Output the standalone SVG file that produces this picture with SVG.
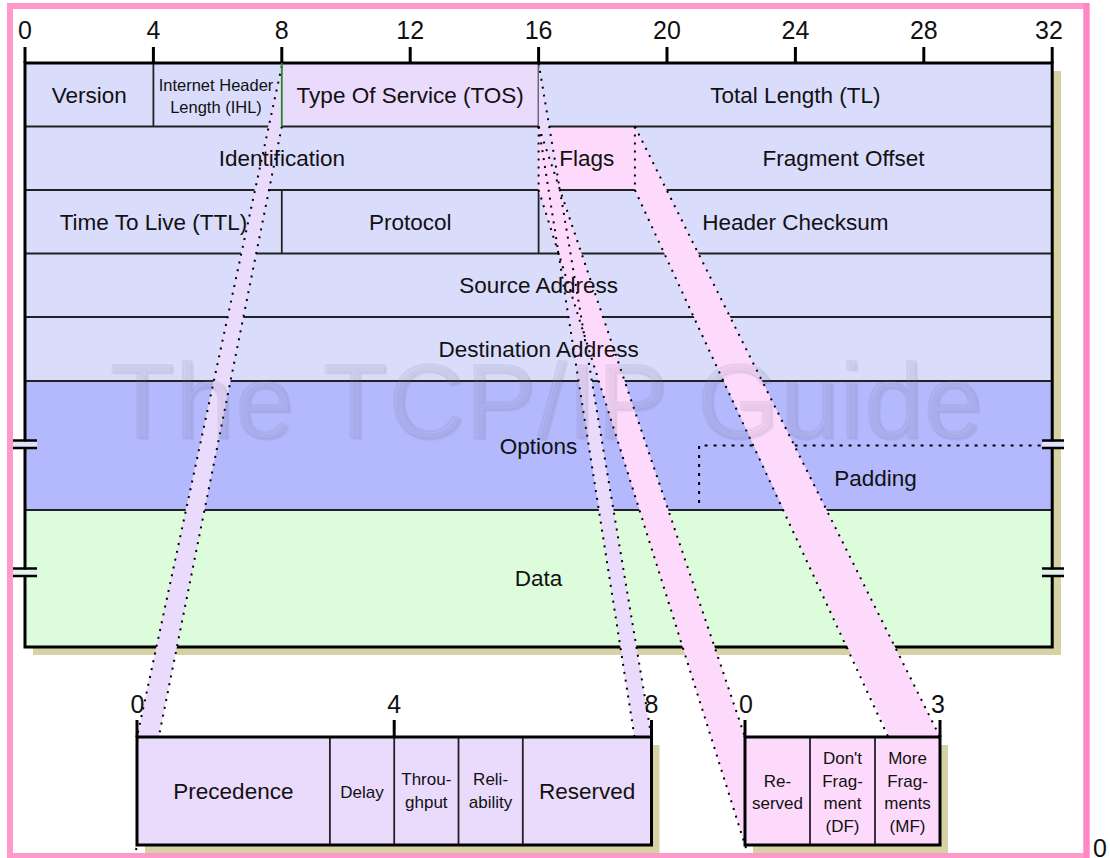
<svg xmlns="http://www.w3.org/2000/svg" width="1110" height="858" viewBox="0 0 1110 858">
  <defs>
    <style>
      .lbl{font-family:"Liberation Sans",Arial,sans-serif;font-size:22.5px;fill:#111;text-anchor:middle}
      .sm{font-size:17px}
      .ihl{font-size:16.5px}
      .tick{font-family:"Liberation Sans",Arial,sans-serif;font-size:25px;fill:#111;text-anchor:middle}
      .grid{stroke:#222;stroke-width:1.8;fill:none}
      .edge{stroke:#000;stroke-width:3;fill:none}
      .tk{stroke:#000;stroke-width:3}
      .dots{stroke:#000;stroke-width:2;stroke-dasharray:2 6;fill:none}
      .shadow{fill:#d6d2a6}
      .brk{stroke:#000;stroke-width:2.5}
      .row{fill:#dadcfc}
      .tos{fill:#eadafc}
      .flg{fill:#fddafc}
      .opt{fill:#b4b8fc}
      .dat{fill:#dcfcdc}
      .wm{font-family:"Liberation Sans",Arial,sans-serif;font-size:106px}
    </style>
  </defs>

  <rect x="0" y="0" width="1110" height="858" fill="#fff"/>

  <!-- bit ruler above the header -->
  <g id="ruler">
    <line class="tk" x1="25" y1="47" x2="25" y2="63"/>
    <line class="tk" x1="153.4" y1="47" x2="153.4" y2="63"/>
    <line class="tk" x1="281.8" y1="47" x2="281.8" y2="63"/>
    <line class="tk" x1="410.2" y1="47" x2="410.2" y2="63"/>
    <line class="tk" x1="538.6" y1="47" x2="538.6" y2="63"/>
    <line class="tk" x1="667" y1="47" x2="667" y2="63"/>
    <line class="tk" x1="795.4" y1="47" x2="795.4" y2="63"/>
    <line class="tk" x1="923.8" y1="47" x2="923.8" y2="63"/>
    <line class="tk" x1="1052.2" y1="47" x2="1052.2" y2="63"/>
    <text class="tick" x="25" y="39">0</text>
    <text class="tick" x="153.4" y="39">4</text>
    <text class="tick" x="281.8" y="39">8</text>
    <text class="tick" x="410.2" y="39">12</text>
    <text class="tick" x="538.6" y="39">16</text>
    <text class="tick" x="667" y="39">20</text>
    <text class="tick" x="795.4" y="39">24</text>
    <text class="tick" x="923.8" y="39">28</text>
    <text class="tick" x="1049" y="39">32</text>
  </g>

  <!-- header body: cells, grid and frame -->
  <g id="header-body">
    <rect class="shadow" x="33" y="71" width="1028" height="584"/>
    <g id="cell-version"><rect class="row" x="25" y="63" width="128.4" height="63.5"/></g>
    <g id="cell-ihl"><rect class="row" x="153.4" y="63" width="128.4" height="63.5"/></g>
    <g id="cell-tos"><rect class="tos" x="281.8" y="63" width="256.8" height="63.5"/></g>
    <g id="cell-total-length"><rect class="row" x="538.6" y="63" width="513.6" height="63.5"/></g>
    <g id="cell-identification"><rect class="row" x="25" y="126.5" width="513.6" height="63.5"/></g>
    <g id="cell-flags"><rect class="flg" x="538.6" y="126.5" width="96.3" height="63.5"/></g>
    <g id="cell-fragment-offset"><rect class="row" x="634.9" y="126.5" width="417.3" height="63.5"/></g>
    <g id="cell-ttl"><rect class="row" x="25" y="190" width="256.8" height="63.5"/></g>
    <g id="cell-protocol"><rect class="row" x="281.8" y="190" width="256.8" height="63.5"/></g>
    <g id="cell-checksum"><rect class="row" x="538.6" y="190" width="513.6" height="63.5"/></g>
    <g id="cell-source"><rect class="row" x="25" y="253.5" width="1027.2" height="63.5"/></g>
    <g id="cell-destination"><rect class="row" x="25" y="317" width="1027.2" height="64"/></g>
    <g id="cell-options"><rect class="opt" x="25" y="381" width="1027.2" height="129"/></g>
    <g id="cell-data"><rect class="dat" x="25" y="510" width="1027.2" height="137"/></g>

    <g class="grid">
      <line x1="25" y1="126.5" x2="1052.2" y2="126.5"/>
      <line x1="25" y1="190" x2="1052.2" y2="190"/>
      <line x1="25" y1="253.5" x2="1052.2" y2="253.5"/>
      <line x1="25" y1="317" x2="1052.2" y2="317"/>
      <line x1="25" y1="381" x2="1052.2" y2="381"/>
      <line x1="25" y1="510" x2="1052.2" y2="510"/>
      <line x1="153.4" y1="63" x2="153.4" y2="126.5"/>
      <line x1="538.6" y1="63" x2="538.6" y2="126.5"/>
      <line x1="281.8" y1="190" x2="281.8" y2="253.5"/>
      <line x1="538.6" y1="190" x2="538.6" y2="253.5"/>
    </g>
    <!-- padding boundary inside the options row -->
    <path d="M699.1,503 V445.5 H1046" stroke="#000" stroke-width="2" stroke-dasharray="3 6" fill="none"/>

    <rect class="edge" x="25" y="63" width="1027.2" height="584"/>

    <!-- variable-length break marks -->
    <g id="breaks">
      <rect x="13" y="441.5" width="24" height="5.5" fill="#e2e2fc"/>
      <line class="brk" x1="13" y1="440.5" x2="37" y2="440.5"/>
      <line class="brk" x1="13" y1="448" x2="37" y2="448"/>
      <rect x="13" y="569.5" width="24" height="5.5" fill="#e2f4ea"/>
      <line class="brk" x1="13" y1="568.5" x2="37" y2="568.5"/>
      <line class="brk" x1="13" y1="576" x2="37" y2="576"/>
      <rect x="1042" y="441.5" width="22" height="5.5" fill="#e2e2fc"/>
      <line class="brk" x1="1042" y1="440.5" x2="1064" y2="440.5"/>
      <line class="brk" x1="1042" y1="448" x2="1064" y2="448"/>
      <rect x="1042" y="569.5" width="22" height="5.5" fill="#e2f4ea"/>
      <line class="brk" x1="1042" y1="568.5" x2="1064" y2="568.5"/>
      <line class="brk" x1="1042" y1="576" x2="1064" y2="576"/>
    </g>
  </g>

  <!-- expansion beams from TOS and Flags down to their detail boxes -->
  <g id="connectors">
    <polygon class="tos" points="281.8,63 137,737 137,845 281.8,126.5"/>
    <polygon class="tos" points="538.6,63 651.5,737 651.5,845 538.6,126.5"/>
    <polygon class="flg" points="538.6,126.5 745,737 745,845 538.6,190"/>
    <polygon class="flg" points="634.9,126.5 940,737 940,845 634.9,190"/>
    <g class="dots">
      <line x1="281.8" y1="66" x2="137" y2="737"/>
      <line x1="281.8" y1="126.5" x2="135.8" y2="851"/>
      <line x1="538.6" y1="63" x2="651.5" y2="737"/>
      <line x1="538.6" y1="126.5" x2="652.4" y2="851"/>
      <line x1="538.6" y1="126.5" x2="745" y2="737"/>
      <line x1="538.6" y1="190" x2="746.9" y2="851"/>
      <line x1="538.6" y1="126.5" x2="538.6" y2="190"/>
      <line x1="634.9" y1="126.5" x2="940" y2="737"/>
      <line x1="634.9" y1="190" x2="941" y2="851"/>
      <line x1="634.9" y1="126.5" x2="634.9" y2="190"/>
    </g>
    <line x1="281.8" y1="63" x2="281.8" y2="126.5" stroke="#1f8a1f" stroke-width="1.8"/>
  </g>

  <!-- watermark, embossed look -->
  <g id="watermark">
    <text class="wm" x="112" y="440" textLength="873" fill="#000" fill-opacity="0.035">The TCP/IP Guide</text>
    <text class="wm" x="110" y="438" textLength="873" fill="#8a8aa6" fill-opacity="0.1" stroke="#6a6a88" stroke-opacity="0.08" stroke-width="2">The TCP/IP Guide</text>
  </g>

  <!-- field labels -->
  <g id="labels" class="lbl">
    <text x="89.2" y="102.5">Version</text>
    <text class="ihl" x="216" y="90.7">Internet Header</text>
    <text class="ihl" x="216" y="112.7">Length (IHL)</text>
    <text x="410.2" y="102.5">Type Of Service (TOS)</text>
    <text x="795.4" y="102.5">Total Length (TL)</text>
    <text x="281.8" y="166">Identification</text>
    <text x="586.7" y="166">Flags</text>
    <text x="843.5" y="166">Fragment Offset</text>
    <text x="153.4" y="229.5">Time To Live (TTL)</text>
    <text x="410.2" y="229.5">Protocol</text>
    <text x="795.4" y="229.5">Header Checksum</text>
    <text x="538.6" y="293.2">Source Address</text>
    <text x="538.6" y="356.8">Destination Address</text>
    <text x="538.6" y="453.5">Options</text>
    <text x="875.6" y="486">Padding</text>
    <text x="538.6" y="586">Data</text>
  </g>

  <!-- Type Of Service detail -->
  <g id="tos-detail">
    <rect class="shadow" x="145" y="745" width="514.5" height="108"/>
    <rect class="tos" x="137" y="737" width="514.5" height="108"/>
    <g class="grid">
      <line x1="329.9" y1="737" x2="329.9" y2="845"/>
      <line x1="394.2" y1="737" x2="394.2" y2="845"/>
      <line x1="458.5" y1="737" x2="458.5" y2="845"/>
      <line x1="522.8" y1="737" x2="522.8" y2="845"/>
    </g>
    <rect class="edge" x="137" y="737" width="514.5" height="108"/>
    <line class="tk" x1="137" y1="720" x2="137" y2="737"/>
    <line class="tk" x1="394.2" y1="720" x2="394.2" y2="737"/>
    <line class="tk" x1="651.5" y1="720" x2="651.5" y2="737"/>
    <text class="tick" x="137.5" y="713">0</text>
    <text class="tick" x="394.2" y="713">4</text>
    <text class="tick" x="651.5" y="713">8</text>
    <g id="tos-precedence" class="lbl"><text x="233.4" y="799">Precedence</text></g>
    <g id="tos-delay" class="lbl sm"><text x="362" y="797.5">Delay</text></g>
    <g id="tos-throughput" class="lbl sm"><text x="426.3" y="785">Throu-</text><text x="426.3" y="808">ghput</text></g>
    <g id="tos-reliability" class="lbl sm"><text x="490.6" y="785">Reli-</text><text x="490.6" y="808">ability</text></g>
    <g id="tos-reserved" class="lbl"><text x="587.1" y="799">Reserved</text></g>
  </g>

  <!-- Flags detail -->
  <g id="flags-detail">
    <rect class="shadow" x="753" y="745" width="195" height="108"/>
    <rect class="flg" x="745" y="737" width="195" height="108"/>
    <g class="grid">
      <line x1="810" y1="737" x2="810" y2="845"/>
      <line x1="875" y1="737" x2="875" y2="845"/>
    </g>
    <rect class="edge" x="745" y="737" width="195" height="108"/>
    <line class="tk" x1="745" y1="720" x2="745" y2="737"/>
    <line class="tk" x1="940" y1="720" x2="940" y2="737"/>
    <text class="tick" x="746" y="713">0</text>
    <text class="tick" x="938" y="713">3</text>
    <g id="flag-reserved" class="lbl sm"><text x="777.5" y="786.5">Re-</text><text x="777.5" y="809">served</text></g>
    <g id="flag-df" class="lbl sm"><text x="842.5" y="764">Don't</text><text x="842.5" y="786.5">Frag-</text><text x="842.5" y="809">ment</text><text x="842.5" y="831.5">(DF)</text></g>
    <g id="flag-mf" class="lbl sm"><text x="907.5" y="764">More</text><text x="907.5" y="786.5">Frag-</text><text x="907.5" y="809">ments</text><text x="907.5" y="831.5">(MF)</text></g>
  </g>

  <!-- page frame -->
  <g id="frame">
    <rect x="10" y="6" width="1076.5" height="850" fill="none" stroke="#ff99cc" stroke-width="6"/>
    <line x1="1086.5" y1="3" x2="1086.5" y2="858" stroke="#ff88c4" stroke-width="6"/>
  </g>
  <text class="tick" x="1100" y="857">0</text>
</svg>
